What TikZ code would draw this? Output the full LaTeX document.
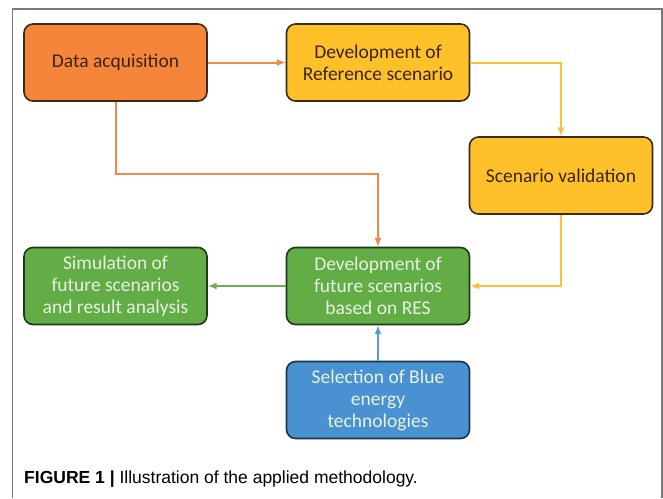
\documentclass[tikz,border=0pt]{standalone}
\usepackage{fontspec}
\setmainfont{Liberation Sans}
\newfontfamily\boxfont{Carlito}

\definecolor{acqfill}{HTML}{F5853A}
\definecolor{reffill}{HTML}{FFC12A}
\definecolor{futfill}{HTML}{62AD46}
\definecolor{bluefill}{HTML}{4A91D2}
\definecolor{darkedge}{HTML}{3D2A18}
\definecolor{greenedge}{HTML}{22361A}
\definecolor{blueedge}{HTML}{1C3350}
\definecolor{darktext}{HTML}{3A2410}
\definecolor{lighttext}{HTML}{E8F4E2}
\definecolor{acqline}{HTML}{F08A4B}
\definecolor{refline}{HTML}{FFBF38}
\definecolor{futline}{HTML}{70AD52}
\definecolor{blueline}{HTML}{5B9BD5}
\definecolor{framegray}{HTML}{7A7A7A}

\begin{document}
\begin{tikzpicture}[x=1pt,y=1pt,
		stage/.style={line width=1.6pt,rounded corners=9pt,minimum width=183pt,minimum height=77pt,
			inner sep=0pt,align=center,font=\boxfont\fontsize{19.5}{22}\selectfont},
		flow/.style={line width=2pt,-latex}]
		\useasboundingbox (0,0) rectangle (663,-498);
		% page frame
		\draw [framegray,line width=1.5pt] (12.5,-498) -- (12.5,-9) -- (662,-9) -- (662,-498);
		% stages
		\node [stage,draw=darkedge,fill=acqfill,text=darktext] (acq) at (115.5,-62.5) {Data acquisition};
		\node [stage,draw=darkedge,fill=reffill,text=darktext] (ref) at (378,-62.5) {Development of\\Reference scenario};
		\node [stage,draw=darkedge,fill=reffill,text=darktext] (valid) at (561,-175.5) {Scenario validation};
		\node [stage,draw=greenedge,fill=futfill,text=lighttext] (future) at (378,-286) {Development of\\future scenarios\\based on RES};
		\node [stage,draw=greenedge,fill=futfill,text=lighttext] (sim) at (115.5,-286) {Simulation of\\future scenarios\\and result analysis};
		\node [stage,draw=blueedge,fill=bluefill,text=lighttext] (blue) at (378,-400) {Selection of Blue\\energy\\technologies};
		% connectors
		\draw [flow,acqline] (acq) -- (ref);
		\draw [flow,refline] (ref) -| (valid);
		\draw [flow,acqline] (acq.south) -- ++(0,-72) -| (future.north);
		\draw [flow,refline] (valid) |- (future);
		\draw [flow,futline] (future) -- (sim);
		\draw [flow,blueline] (blue) -- (future);
		% caption
		\node [anchor=base west,inner sep=0pt,font=\fontsize{17.5}{20}\selectfont] (caption) at (24,-483)
			{\textbf{FIGURE 1} \textbf{|} Illustration of the applied methodology.};
\end{tikzpicture}
\end{document}
